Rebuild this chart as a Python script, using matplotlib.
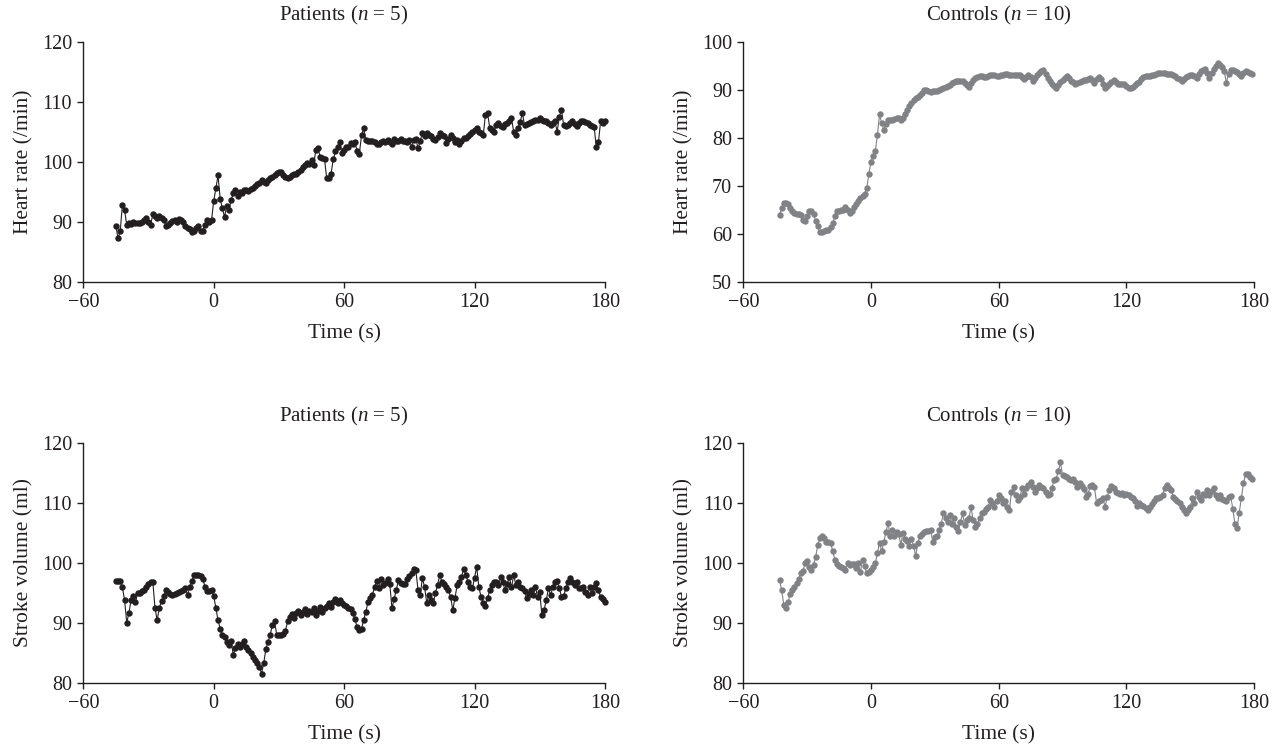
import numpy as np
import matplotlib

matplotlib.use("Agg")
import matplotlib.pyplot as plt

plt.rcParams["font.family"] = ["Liberation Serif", "DejaVu Serif"]
plt.rcParams["mathtext.fontset"] = "custom"
plt.rcParams["mathtext.rm"] = "Liberation Serif"
plt.rcParams["mathtext.it"] = "Liberation Serif:italic"

PATIENT_COLOR = "#231f20"
CONTROL_COLOR = "#808285"
TEXT_COLOR = "#231f20"

# time axis (s), one sample per second
patients_time = np.arange(-45, 181)
controls_time = np.arange(-43, 180)

patients_hr = [
    89.3, 87.2, 88.4, 92.8, 91.9, 89.5, 89.7, 89.6, 89.9, 89.7,
    89.8, 89.7, 90.0, 90.3, 90.6, 90.0, 89.5, 91.2, 91.0, 90.6,
    90.9, 90.6, 90.3, 89.3, 89.4, 89.8, 90.1, 90.3, 90.0, 90.4,
    90.2, 89.9, 89.2, 89.0, 88.7, 88.3, 88.4, 88.9, 89.2, 88.4,
    88.5, 89.5, 90.3, 90.0, 90.2, 93.4, 95.6, 97.7, 93.8, 92.2,
    90.8, 92.6, 91.9, 93.6, 94.7, 95.3, 94.2, 95.0, 94.8, 95.2,
    95.3, 95.1, 95.5, 95.6, 95.9, 96.2, 96.5, 96.9, 96.6, 96.5,
    96.9, 97.2, 97.5, 97.8, 98.1, 98.3, 98.2, 97.8, 97.5, 97.2,
    97.4, 97.8, 97.9, 98.0, 98.3, 98.6, 99.1, 99.4, 99.7, 99.6,
    100.3, 99.4, 102.0, 102.2, 100.8, 100.6, 100.4, 97.2, 97.2, 98.0,
    100.4, 101.7, 102.5, 103.3, 101.4, 101.9, 102.5, 102.4, 103.1, 103.0,
    103.3, 101.7, 101.3, 104.4, 105.6, 103.6, 103.5, 103.4, 103.5, 103.2,
    103.0, 102.9, 103.2, 103.4, 103.2, 103.6, 103.3, 103.0, 103.8, 103.5,
    103.4, 103.7, 103.5, 103.5, 103.3, 103.6, 102.5, 103.6, 103.8, 102.2,
    103.5, 104.7, 104.3, 104.8, 104.5, 104.2, 103.8, 103.6, 104.1, 104.7,
    104.4, 104.2, 103.1, 103.8, 104.4, 104.0, 103.3, 103.6, 102.9, 103.5,
    103.9, 104.0, 104.2, 104.6, 105.0, 105.3, 105.6, 105.0, 104.8, 104.4,
    107.8, 108.1, 105.6, 105.3, 105.0, 106.1, 106.4, 106.0, 105.8, 106.2,
    106.5, 106.8, 107.2, 105.0, 104.4, 105.6, 106.6, 108.1, 106.1, 106.2,
    106.4, 106.6, 106.7, 106.9, 107.0, 107.2, 107.0, 106.8, 106.7, 106.4,
    106.1, 106.4, 106.7, 105.0, 107.5, 108.6, 106.1, 106.0, 106.1, 106.4,
    106.8, 106.2, 105.9, 106.4, 106.8, 106.7, 106.6, 106.4, 106.1, 105.9,
    105.8, 102.5, 103.3, 106.7, 106.4, 106.7,
]

controls_hr = [
    63.8, 65.4, 66.4, 66.4, 66.1, 65.4, 64.7, 64.3, 64.1, 64.0,
    63.8, 62.9, 62.6, 63.6, 64.7, 64.8, 64.0, 62.6, 61.5, 60.3,
    60.3, 60.5, 60.7, 60.8, 61.4, 62.2, 63.6, 64.7, 64.8, 64.9,
    65.0, 65.5, 65.0, 64.3, 64.8, 65.6, 66.2, 66.8, 67.4, 67.9,
    68.2, 69.5, 72.5, 75.0, 76.2, 77.2, 80.5, 84.9, 83.0, 81.6,
    82.9, 83.6, 83.6, 83.7, 83.9, 84.2, 84.0, 83.6, 84.0, 85.0,
    85.8, 86.6, 87.2, 87.8, 88.3, 88.5, 88.9, 89.4, 90.0, 90.0,
    89.7, 89.5, 89.8, 89.8, 89.8, 90.0, 90.1, 90.3, 90.5, 90.7,
    90.9, 91.3, 91.6, 91.8, 91.8, 91.9, 91.9, 91.3, 91.0, 90.6,
    91.4, 92.1, 92.5, 92.7, 92.9, 92.8, 92.7, 92.7, 92.8, 93.0,
    93.1, 93.0, 92.9, 92.9, 93.0, 93.1, 93.2, 93.2, 93.1, 93.1,
    93.1, 93.1, 93.1, 93.0, 92.6, 92.2, 92.6, 93.0, 92.6, 91.9,
    92.5, 93.1, 93.5, 93.8, 94.1, 93.3, 92.5, 91.8, 91.1, 90.8,
    90.4, 90.9, 91.5, 92.0, 92.5, 92.9, 92.4, 91.9, 91.6, 91.2,
    91.3, 91.7, 91.9, 92.0, 92.1, 92.3, 92.4, 92.1, 91.4, 92.2,
    92.6, 92.2, 91.2, 90.4, 90.8, 91.2, 91.7, 92.1, 91.6, 91.2,
    91.2, 91.1, 91.1, 90.7, 90.4, 90.3, 90.6, 90.9, 91.3, 91.7,
    92.2, 92.7, 92.9, 92.9, 92.9, 93.0, 93.1, 93.3, 93.4, 93.4,
    93.4, 93.4, 93.3, 93.3, 93.2, 93.1, 92.9, 92.5, 92.2, 91.9,
    92.2, 92.6, 92.8, 93.1, 93.1, 92.8, 92.5, 93.2, 93.8, 94.1,
    94.3, 93.5, 92.5, 93.5, 94.3, 94.9, 95.6, 95.2, 94.7, 93.8,
    91.4, 93.3, 94.1, 94.2, 93.9, 93.6, 93.3, 92.9, 93.4, 93.9,
    93.6, 93.4, 93.3,
]

patients_sv = [
    97.0, 97.0, 96.9, 95.9, 93.8, 90.0, 91.6, 93.8, 94.5, 93.4,
    94.9, 95.0, 95.2, 95.4, 96.0, 96.4, 96.8, 96.8, 92.5, 90.4,
    92.5, 93.6, 94.4, 95.5, 95.1, 94.7, 94.6, 94.7, 95.0, 95.1,
    95.3, 95.5, 95.7, 94.6, 96.0, 97.0, 98.0, 98.0, 97.9, 97.8,
    97.3, 96.0, 95.2, 95.2, 95.4, 94.5, 92.5, 90.4, 89.0, 87.9,
    87.6, 86.8, 86.2, 87.0, 84.6, 85.8, 86.5, 85.9, 86.5, 87.0,
    86.0, 85.4, 85.0, 84.2, 83.8, 83.3, 82.6, 81.5, 83.2, 85.6,
    86.8, 88.0, 89.6, 90.2, 88.0, 87.9, 88.0, 88.1, 88.6, 90.2,
    91.0, 91.5, 90.8, 91.6, 92.0, 91.3, 91.8, 92.3, 91.5, 92.0,
    91.8, 92.5, 91.2, 92.0, 92.6, 91.8, 92.4, 92.8, 93.2, 92.6,
    93.5, 94.0, 93.2, 93.8, 93.3, 92.9, 92.7, 92.5, 92.2, 91.6,
    90.6, 89.2, 88.8, 89.0, 90.5, 91.8, 93.5, 94.1, 94.6, 96.0,
    96.9, 95.8, 97.2, 96.3, 96.6, 97.2, 96.5, 92.4, 93.9, 95.5,
    97.1, 96.6, 96.5, 96.5, 97.2, 97.8, 98.2, 98.9, 98.7, 95.5,
    94.6, 97.4, 96.0, 93.3, 94.6, 93.8, 93.2, 94.9, 96.3, 97.9,
    96.8, 96.5, 95.9, 95.4, 94.3, 92.1, 94.1, 96.3, 96.8, 97.6,
    99.0, 97.9, 96.8, 95.9, 95.7, 97.5, 99.3, 95.9, 94.3, 93.2,
    92.7, 94.1, 95.4, 96.2, 96.7, 96.8, 96.2, 97.6, 96.8, 95.4,
    96.5, 97.6, 95.9, 97.9, 96.3, 96.8, 95.9, 95.7, 95.2, 94.1,
    94.8, 95.4, 94.6, 95.9, 94.3, 95.1, 91.2, 92.1, 93.8, 95.7,
    94.6, 95.9, 96.8, 97.0, 95.8, 94.3, 94.5, 95.7, 96.8, 97.4,
    96.8, 96.3, 96.8, 95.7, 95.8, 95.9, 95.1, 94.6, 95.9, 94.9,
    95.9, 96.6, 95.4, 94.3, 94.0, 93.5,
]

controls_sv = [
    97.1, 95.4, 93.0, 92.5, 93.4, 94.8, 95.5, 96.0, 96.6, 97.3,
    98.2, 98.6, 99.9, 100.2, 99.3, 98.8, 99.6, 101.0, 103.0, 104.1,
    104.5, 104.1, 103.4, 103.5, 103.3, 101.9, 100.5, 99.8, 99.5, 99.3,
    99.1, 98.7, 99.9, 99.6, 99.7, 99.8, 99.1, 99.9, 98.4, 100.5,
    99.4, 98.2, 98.5, 98.8, 99.2, 99.9, 101.6, 103.3, 101.9, 103.4,
    105.1, 106.6, 104.4, 105.5, 104.4, 105.1, 104.7, 103.0, 105.0, 104.0,
    103.6, 102.8, 103.9, 102.8, 101.1, 103.3, 104.5, 104.8, 105.1, 105.3,
    105.2, 105.4, 103.5, 104.3, 104.4, 105.4, 106.5, 108.2, 107.4, 106.8,
    107.9, 106.5, 107.4, 106.0, 105.2, 106.8, 108.2, 106.3, 107.1, 107.4,
    109.3, 107.1, 106.0, 106.5, 107.4, 108.2, 108.5, 108.9, 109.3, 110.4,
    110.0, 109.3, 110.3, 111.3, 110.7, 109.9, 110.2, 109.3, 108.8, 111.8,
    112.6, 111.3, 110.4, 111.0, 112.4, 111.5, 112.4, 113.0, 113.5, 112.6,
    111.8, 112.4, 112.9, 112.6, 112.4, 111.8, 111.3, 111.5, 112.4, 113.8,
    114.0, 115.2, 116.7, 114.6, 114.4, 114.2, 114.0, 113.8, 113.9, 113.5,
    112.6, 113.2, 112.7, 112.3, 111.0, 111.5, 112.7, 112.9, 112.6, 109.9,
    110.2, 110.5, 110.7, 109.3, 111.0, 112.1, 112.8, 112.4, 111.8, 111.6,
    111.5, 111.6, 111.3, 111.5, 111.2, 111.0, 110.7, 110.2, 109.4, 109.9,
    109.6, 109.4, 109.1, 108.7, 109.3, 109.8, 110.2, 110.7, 110.8, 110.9,
    111.3, 112.4, 112.9, 112.4, 112.1, 111.0, 110.6, 110.2, 109.9, 109.3,
    108.8, 108.2, 108.8, 109.3, 110.7, 109.9, 111.8, 111.0, 110.4, 111.5,
    111.3, 112.1, 111.3, 111.9, 112.4, 111.3, 110.7, 111.3, 110.6, 110.4,
    110.2, 111.0, 111.1, 109.0, 106.5, 105.8, 108.2, 110.7, 113.2, 114.7,
    114.8, 114.3, 113.9,
]

x_ticks = [-60, 0, 60, 120, 180]

panels = [
    # rect, time, values, color, title, ylabel, yticks
    ([0.0651, 0.6234, 0.4079, 0.3209], patients_time, patients_hr, PATIENT_COLOR,
     "Patients ($n$ = 5)", "Heart rate (/min)", [80, 90, 100, 110, 120]),
    ([0.5812, 0.6234, 0.3993, 0.3209], controls_time, controls_hr, CONTROL_COLOR,
     "Controls ($n$ = 10)", "Heart rate (/min)", [50, 60, 70, 80, 90, 100]),
    ([0.0651, 0.0873, 0.4079, 0.3209], patients_time, patients_sv, PATIENT_COLOR,
     "Patients ($n$ = 5)", "Stroke volume (ml)", [80, 90, 100, 110, 120]),
    ([0.5812, 0.0873, 0.3993, 0.3209], controls_time, controls_sv, CONTROL_COLOR,
     "Controls ($n$ = 10)", "Stroke volume (ml)", [80, 90, 100, 110, 120]),
]

fig = plt.figure(figsize=(12.79, 7.48), dpi=100)

for rect, t, values, color, title, ylabel, yticks in panels:
    ax = fig.add_axes(rect)
    ax.plot(t, values, color=color, linewidth=0.8, marker="o",
            markersize=4.6, markeredgewidth=0, clip_on=False)
    ax.set_xlim(-60, 180)
    ax.set_ylim(yticks[0], yticks[-1])
    ax.set_xticks(x_ticks)
    ax.set_yticks(yticks)
    for side in ("top", "right"):
        ax.spines[side].set_visible(False)
    for side in ("left", "bottom"):
        ax.spines[side].set_color(TEXT_COLOR)
        ax.spines[side].set_linewidth(1.0)
    ax.tick_params(direction="out", length=4, width=1.0, color=TEXT_COLOR,
                   labelsize=14.5, labelcolor=TEXT_COLOR, pad=4)
    ax.set_title(title, fontsize=15, color=TEXT_COLOR, pad=15)
    ax.set_xlabel("Time (s)", fontsize=15.5, color=TEXT_COLOR, labelpad=9)
    ax.set_ylabel(ylabel, fontsize=15.5, color=TEXT_COLOR, labelpad=6)

fig.savefig("out.png", dpi=100)
